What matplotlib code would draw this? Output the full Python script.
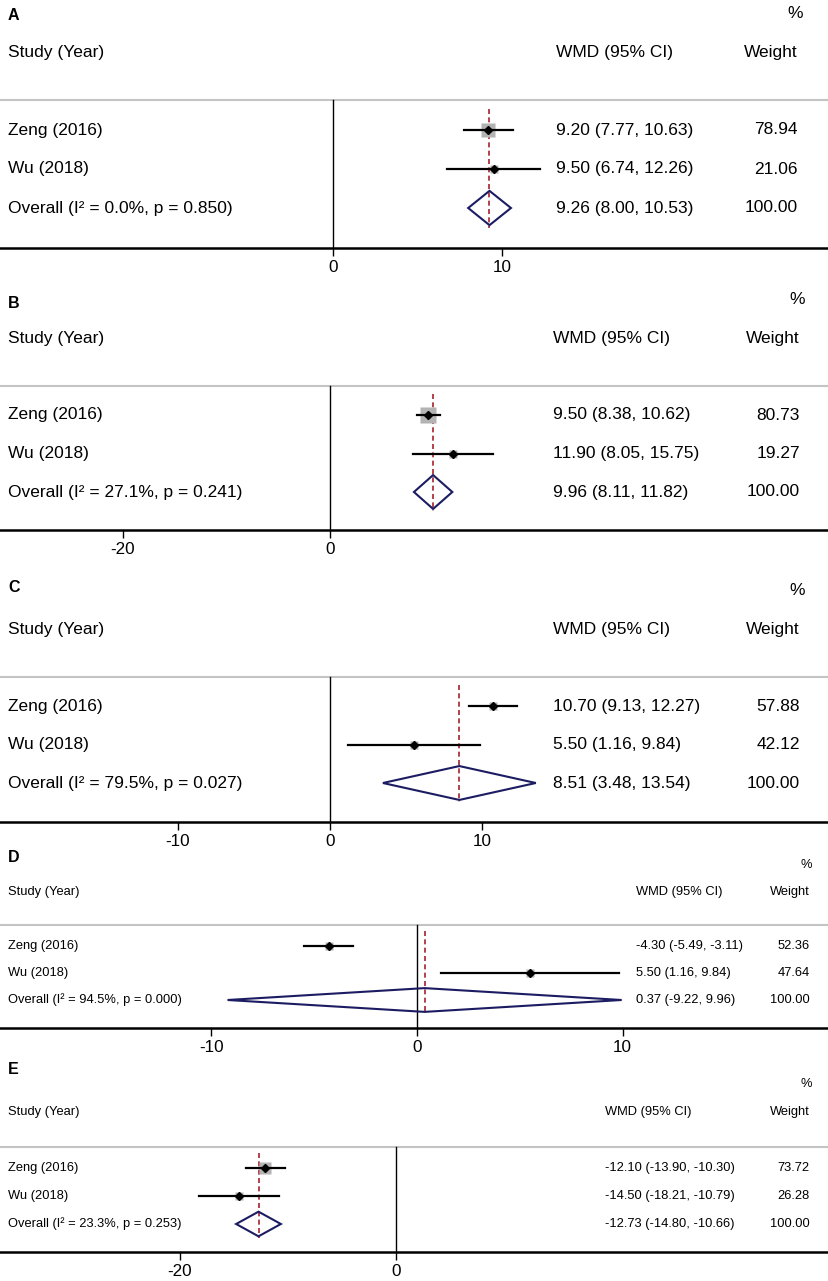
import matplotlib
matplotlib.use('Agg')
import matplotlib.pyplot as plt
from matplotlib.patches import Polygon
from matplotlib.transforms import blended_transform_factory

plt.rcParams['font.family'] = ['Liberation Sans', 'DejaVu Sans']

# --- Data ---
studies = ['Zeng (2016)', 'Wu (2018)']

est_A = [9.20, 9.50, 9.26]
lo_A = [7.77, 6.74, 8.00]
hi_A = [10.63, 12.26, 10.53]
wt_A = [78.94, 21.06, 100.00]
het_A = (0.0, 0.850)

est_B = [9.50, 11.90, 9.96]
lo_B = [8.38, 8.05, 8.11]
hi_B = [10.62, 15.75, 11.82]
wt_B = [80.73, 19.27, 100.00]
het_B = (27.1, 0.241)

est_C = [10.70, 5.50, 8.51]
lo_C = [9.13, 1.16, 3.48]
hi_C = [12.27, 9.84, 13.54]
wt_C = [57.88, 42.12, 100.00]
het_C = (79.5, 0.027)

est_D = [-4.30, 5.50, 0.37]
lo_D = [-5.49, 1.16, -9.22]
hi_D = [-3.11, 9.84, 9.96]
wt_D = [52.36, 47.64, 100.00]
het_D = (94.5, 0.000)

est_E = [-12.10, -14.50, -12.73]
lo_E = [-13.90, -18.21, -14.80]
hi_E = [-10.30, -10.79, -10.66]
wt_E = [73.72, 26.28, 100.00]
het_E = (23.3, 0.253)

ticks_A = [0, 10]
ticks_B = [-20, 0]
ticks_C = [-10, 0, 10]
ticks_D = [-10, 0, 10]
ticks_E = [-20, 0]

panels = [
    ('A', est_A, lo_A, hi_A, wt_A, het_A, ticks_A),
    ('B', est_B, lo_B, hi_B, wt_B, het_B, ticks_B),
    ('C', est_C, lo_C, hi_C, wt_C, het_C, ticks_C),
    ('D', est_D, lo_D, hi_D, wt_D, het_D, ticks_D),
    ('E', est_E, lo_E, hi_E, wt_E, het_E, ticks_E),
]

# --- Layout in pixels (top, first row, row spacing, axis line, zero x, px per unit,
#     CI column x, weight right x, % right x, font size, box scale, letter y) ---
W, H = 829, 1281
layout = [
    (0, 130, 39.0, 248, 333, 16.9, 556, 798, 803, 12.5, 1.58, 15),
    (290, 415, 38.5, 530, 330, 10.35, 553, 800, 805, 12.5, 1.67, 303),
    (575, 706, 38.5, 822, 330, 15.2, 553, 800, 805, 12.5, 1.18, 587),
    (850, 946, 27.0, 1028, 417, 20.55, 636, 810, 812, 9.3, 1.10, 857),
    (1060, 1168, 28.0, 1252, 396, 10.8, 605, 810, 812, 9.3, 1.46, 1070),
]

NAVY = '#1c1c62'
MAROON = '#a3222e'
BOXGRAY = '#b3b3b3'

fig = plt.figure(figsize=(W / 100, H / 100), dpi=100)

for (letter, est, lo, hi, wt, het, ticks), lay in zip(panels, layout):
    top, row1, sp, axis_px, zero_px, ppu, wmd_x, wt_x, pct_x, fs, box_k, let_y = lay
    ax = fig.add_axes([0, 1 - axis_px / H, 1, (axis_px - top) / H])
    y_bot = 1 + (axis_px - row1) / sp
    y_top = 1 - (row1 - top) / sp
    ax.set_ylim(y_bot, y_top)
    ax.set_xlim(-zero_px / ppu, (W - zero_px) / ppu)
    for s in ['top', 'left', 'right']:
        ax.spines[s].set_visible(False)
    ax.spines['bottom'].set_linewidth(1.8)
    ax.set_yticks([])
    ax.set_xticks(ticks)
    ax.set_xticklabels([str(t) for t in ticks])
    ax.tick_params(axis='x', length=6, width=1, pad=2.5, labelsize=12.3)
    ax.patch.set_alpha(0)

    rows = [1, 2, 3]
    trans = blended_transform_factory(ax.transAxes, ax.transData)

    # header separator and null line
    ax.axhline(0.24, color='#c4c4c4', lw=1.5)
    ax.plot([0, 0], [0.24, y_bot], color='black', lw=1)
    # pooled estimate line
    ax.plot([est[2], est[2]], [0.45, 3.5], color=MAROON, lw=1.2, dashes=(3, 2))

    # study rows
    for i in range(2):
        side_px = box_k * wt[i] ** 0.5
        ax.plot(est[i], rows[i], marker='s', ms=side_px * 0.72, color=BOXGRAY,
                mec='none', zorder=2)
        ax.plot([lo[i], hi[i]], [rows[i], rows[i]], color='black', lw=1.6, zorder=3)
        ax.plot(est[i], rows[i], marker='D', ms=3.6, color='black', zorder=4)

    # overall diamond
    h = 0.44
    dia = Polygon([(lo[2], 3), (est[2], 3 - h), (hi[2], 3), (est[2], 3 + h)],
                  closed=True, fill=False, edgecolor=NAVY, lw=1.5, zorder=3)
    ax.add_patch(dia)

    # text columns
    labels = studies + ['Overall (I\u00b2 = %.1f%%, p = %.3f)' % het]
    for r, lab, e, l, u, w in zip(rows, labels, est, lo, hi, wt):
        ax.text(8 / W, r, lab, transform=trans, va='center', ha='left', fontsize=fs)
        ax.text(wmd_x / W, r, '%.2f (%.2f, %.2f)' % (e, l, u), transform=trans,
                va='center', ha='left', fontsize=fs)
        ax.text(wt_x / W, r, '%.2f' % w, transform=trans, va='center', ha='right',
                fontsize=fs)

    ax.text(8 / W, -1, 'Study (Year)', transform=trans, va='center', ha='left', fontsize=fs)
    ax.text(wmd_x / W, -1, 'WMD (95% CI)', transform=trans, va='center', ha='left', fontsize=fs)
    ax.text(wt_x / W, -1, 'Weight', transform=trans, va='center', ha='right', fontsize=fs)
    ax.text(pct_x / W, -2, '%', transform=trans, va='center', ha='right', fontsize=fs)

    fig.text(8 / W, 1 - let_y / H, letter, fontsize=11.5, fontweight='bold',
             va='center', ha='left')

fig.savefig('out.png', dpi=100)
